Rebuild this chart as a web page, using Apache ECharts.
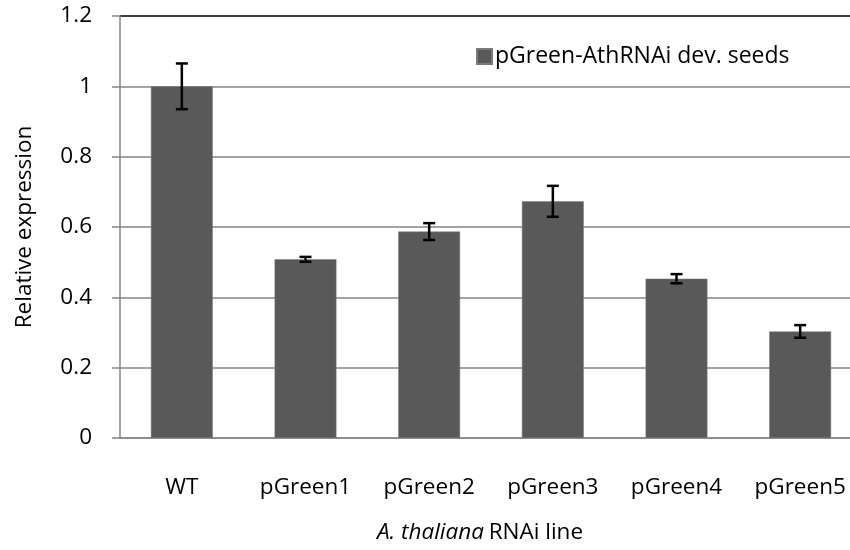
<!DOCTYPE html>
<html>
<head>
<meta charset="utf-8">
<script src="https://cdn.jsdelivr.net/npm/echarts@6/dist/echarts.min.js"></script>
<style>html,body{margin:0;padding:0;background:#fff}#c{width:850px;height:550px}</style>
</head>
<body>
<div id="c"></div>
<script>
const categories = ['WT', 'pGreen1', 'pGreen2', 'pGreen3', 'pGreen4', 'pGreen5'];
const values = [1.0, 0.508, 0.587, 0.673, 0.453, 0.303];
const errors = [0.065, 0.007, 0.024, 0.044, 0.013, 0.018];
const yTicks = [0, 0.2, 0.4, 0.6, 0.8, 1, 1.2];
const seriesName = 'pGreen-AthRNAi dev. seeds';

const FONT = 'Open Sans';
const FS = 22.5;
const chart = echarts.init(document.getElementById('c'), null, {renderer: 'canvas'});
const errData = values.map((v, i) => [i, v - errors[i], v + errors[i]]);

chart.setOption({
  animation: false,
  backgroundColor: '#fff',
  textStyle: {fontFamily: FONT},
  grid: {left: 120, top: 16, right: -12, bottom: 112, outerBoundsMode: 'none', containLabel: false},
  title: {
    text: '{i|A. thaliana} {n|RNAi line}',
    left: 480, top: 521, padding: 0, textAlign: 'center',
    textStyle: {
      rich: {
        i: {fontFamily: FONT, fontSize: FS, fontStyle: 'italic', fontWeight: 'normal', color: '#000'},
        n: {fontFamily: FONT, fontSize: FS, fontWeight: 'normal', color: '#000'}
      }
    }
  },
  legend: {
    data: [seriesName],
    left: 471, top: 40,
    icon: 'rect', itemWidth: 15, itemHeight: 15, itemGap: 6,
    textStyle: {fontFamily: FONT, fontSize: 23, color: '#000', padding: [0, 0, 0, -2]}
  },
  xAxis: {
    type: 'category',
    data: categories,
    axisLine: {show: true, lineStyle: {color: '#868686', width: 1.5}},
    axisTick: {show: false},
    axisLabel: {fontFamily: FONT, fontSize: FS, color: '#000', margin: 38}
  },
  yAxis: {
    type: 'value',
    min: 0, max: 1.2, interval: 0.2,
    name: 'Relative expression',
    nameLocation: 'middle',
    nameGap: 84,
    nameTextStyle: {fontFamily: FONT, fontSize: FS, color: '#000'},
    axisLine: {show: true, lineStyle: {color: '#868686', width: 1.5}},
    axisTick: {show: true, inside: false, length: 8, lineStyle: {color: '#868686', width: 1.5}},
    axisLabel: {
      fontFamily: FONT, fontSize: FS, color: '#000', margin: 28,
      formatter: v => {
        const t = yTicks.find(x => Math.abs(x - v) < 1e-9);
        return t === undefined ? '' : String(t);
      }
    },
    splitLine: {show: true, lineStyle: {color: ['#868686', '#868686', '#868686', '#868686', '#868686', '#868686', '#000'], width: 1.5}}
  },
  series: [
    {
      name: seriesName,
      type: 'bar',
      data: values,
      barWidth: '50%',
      itemStyle: {color: '#595959', borderColor: '#7a7a7a', borderWidth: 0.5},
      z: 2
    },
    {
      name: 'err',
      type: 'custom',
      data: errData,
      z: 5,
      renderItem: function (params, api) {
        const x = api.value(0);
        const lo = api.coord([x, api.value(1)]);
        const hi = api.coord([x, api.value(2)]);
        const cap = 6;
        const style = {stroke: '#000', lineWidth: 2.5};
        return {
          type: 'group',
          children: [
            {type: 'line', shape: {x1: hi[0], y1: hi[1], x2: lo[0], y2: lo[1]}, style: style},
            {type: 'line', shape: {x1: hi[0] - cap, y1: hi[1], x2: hi[0] + cap, y2: hi[1]}, style: style},
            {type: 'line', shape: {x1: lo[0] - cap, y1: lo[1], x2: lo[0] + cap, y2: lo[1]}, style: style}
          ]
        };
      }
    }
  ]
});
</script>
</body>
</html>
